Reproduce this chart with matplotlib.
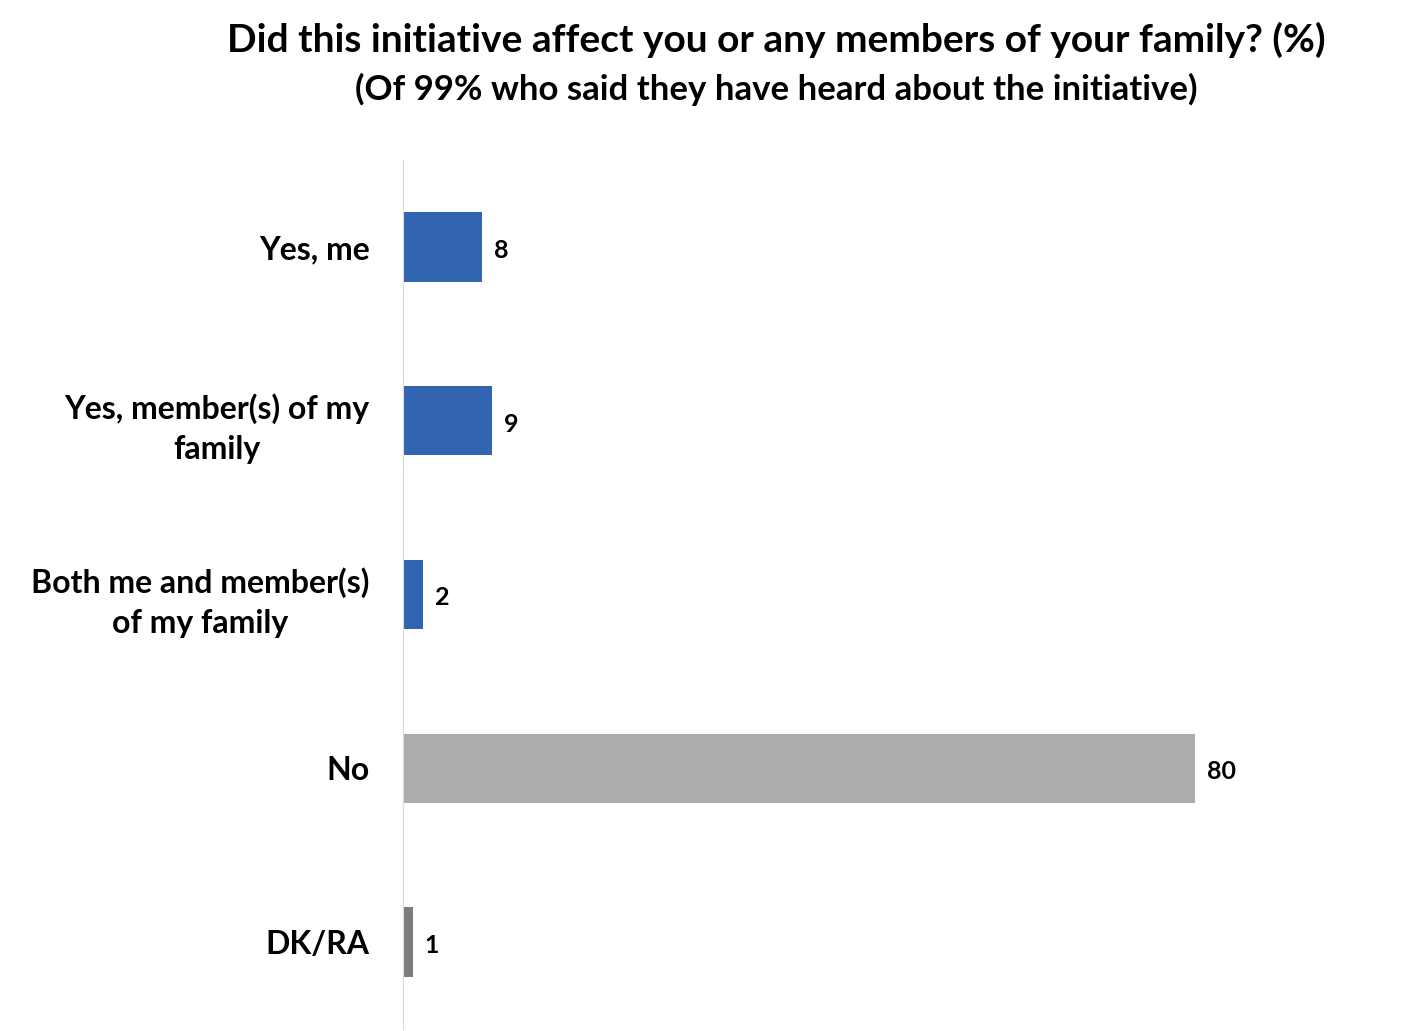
import matplotlib.pyplot as plt

categories = ['Yes, me', 'Yes, member(s) of my\nfamily', 'Both me and member(s)\nof my family', 'No', 'DK/RA']
values = [8, 9, 2, 80, 1]
colors = ['#3165B1', '#3165B1', '#3165B1', '#AEABAB', '#7F7B7B']

plt.rcParams['font.family'] = ['Lato', 'DejaVu Sans']

fig = plt.figure(figsize=(14.2, 10.31), dpi=100)
ax = fig.add_axes([403 / 1420, 2 / 1031, 990 / 1420, 869 / 1031])

y = range(len(categories))
ax.barh(y, values, height=0.4, color=colors)
ax.set_xlim(0, 100)
ax.set_ylim(4.5, -0.5)

for i, v in enumerate(values):
    ax.text(v + 1.2, i + 0.02, str(v), va='center', ha='left', fontsize=18, fontweight='bold')

ax.set_yticks(list(y))
ax.set_yticklabels(categories, fontsize=23, fontweight='bold', ma='center', linespacing=1.45)
ax.tick_params(axis='y', length=0, pad=24)
ax.set_xticks([])
for s in ['top', 'right', 'bottom']:
    ax.spines[s].set_visible(False)
ax.spines['left'].set_color('#D9D9D9')

fig.text(776 / 1420, 1 - 40 / 1031, 'Did this initiative affect you or any members of your family? (%)',
         ha='center', va='center', fontsize=28, fontweight='bold')
fig.text(776 / 1420, 1 - 89 / 1031, '(Of 99% who said they have heard about the initiative)',
         ha='center', va='center', fontsize=25, fontweight='bold')

fig.savefig('out.png')
